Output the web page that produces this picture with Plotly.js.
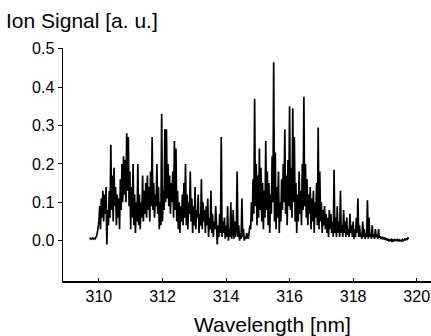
<!DOCTYPE html>
<html>
<head>
<meta charset="utf-8">
<script src="https://cdn.plot.ly/plotly-3.0.1.min.js"></script>
<style>html,body{margin:0;padding:0;background:#fff;}#chart{width:431px;height:336px;}</style>
</head>
<body>
<div id="chart"></div>
<script>
// Wavelength sampling grid (nm)
const wavelengthStart = 309.7;
const wavelengthStep = 0.025;

// Ion signal [a. u.], one value per grid step
const ionSignal = [
  // 309.700 - 310.175
  0.005,0.006,0.004,0.005,0.007,0.004,0.006,0.005,0.008,0.012,0.02,0.035,0.05,0.09,0.03,0.11,0.06,0.13,0.05,0.12,
  // 310.200 - 310.675
  0.07,0.14,-0.01,0.08,0.04,0.13,0.06,0.25,0.08,0.17,0.05,0.19,0.09,0.14,0.04,0.12,0.06,0.11,0.03,0.16,
  // 310.700 - 311.175
  0.08,0.2,0.1,0.22,0.12,0.21,0.1,0.28,0.13,0.27,0.09,0.18,0.03,0.14,0.06,0.2,0.04,0.12,0.02,0.1,
  // 311.200 - 311.675
  0.05,0.2,0.04,0.12,0.03,0.1,0.06,0.17,0.05,0.13,0.07,0.15,0.06,0.17,0.08,0.14,0.05,0.18,0.09,0.27,
  // 311.700 - 312.175
  0.08,0.15,0.06,0.12,0.09,0.2,0.07,0.14,0.03,0.1,0.04,0.33,0.05,0.13,0.08,0.29,0.1,0.29,0.11,0.2,
  // 312.200 - 312.675
  0.09,0.17,0.07,0.15,0.1,0.18,0.06,0.26,0.08,0.24,0.05,0.13,0.03,0.1,0.02,0.09,0.05,0.12,0.04,0.15,
  // 312.700 - 313.175
  0.06,0.2,0.04,0.12,0.03,0.1,0.07,0.18,0.05,0.11,0.02,0.09,0.04,0.14,0.03,0.08,0.06,0.12,0.02,0.07,
  // 313.200 - 313.675
  0.04,0.16,0.03,0.1,0.05,0.08,0.02,0.09,0.04,0.11,0.01,0.06,0.03,0.13,0.02,0.07,0.01,0.05,0.03,0.09,
  // 313.700 - 314.175
  0.0,-0.01,0.04,0.01,0.07,0.02,0.27,0.01,0.05,0.02,0.06,0.005,0.04,0.01,0.09,0.0,0.03,0.01,0.1,0.005,
  // 314.200 - 314.675
  0.02,0.08,0.005,0.05,0.01,0.03,0.18,0.01,0.04,0.0,0.02,0.005,0.11,0.01,0.03,0.0,0.01,0.005,0.02,0.01,
  // 314.700 - 315.175
  0.005,0.02,0.04,0.03,0.1,0.05,0.16,0.07,0.37,0.09,0.2,0.04,0.17,0.06,0.24,0.08,0.19,0.05,0.15,0.03,
  // 315.200 - 315.675
  0.13,0.06,0.26,0.08,0.18,0.04,0.15,0.02,0.12,0.07,0.22,0.1,0.465,0.05,0.23,0.03,0.14,0.06,0.18,0.02,
  // 315.700 - 316.175
  0.1,0.05,0.16,0.08,0.2,0.1,0.29,0.07,0.17,0.04,0.21,0.09,0.35,0.08,0.19,0.06,0.345,0.1,0.27,0.05,
  // 316.200 - 316.675
  0.15,0.02,0.12,0.05,0.18,0.07,0.13,0.04,0.2,0.08,0.375,0.09,0.2,0.06,0.16,0.04,0.12,0.07,0.14,0.03,
  // 316.700 - 317.175
  0.11,0.05,0.13,0.02,0.1,0.06,0.15,0.04,0.295,0.03,0.18,0.05,0.1,0.02,0.08,0.04,0.09,0.03,0.07,0.02,
  // 317.200 - 317.675
  0.06,0.01,0.08,0.03,0.07,0.02,0.05,0.01,0.185,0.02,0.06,0.01,0.09,0.02,0.05,0.01,0.13,0.02,0.04,0.01,
  // 317.700 - 318.175
  0.08,0.02,0.05,0.01,0.06,0.015,0.03,0.01,0.07,0.02,0.04,0.01,0.05,0.005,0.03,0.01,0.06,0.02,0.11,0.01,
  // 318.200 - 318.675
  0.04,0.01,0.02,0.005,0.05,0.01,0.03,0.005,0.02,0.01,0.105,0.005,0.06,0.01,0.02,0.005,0.04,0.01,0.015,0.005,
  // 318.700 - 319.175
  0.03,0.01,0.015,0.005,0.03,0.008,0.012,0.004,0.01,0.006,0.009,0.003,0.008,0.002,0.006,0.0,0.005,-0.002,0.004,0.001,
  // 319.200 - 319.675
  0.003,-0.003,0.002,0.0,0.004,-0.001,0.002,0.001,0.003,-0.002,0.002,0.0,0.001,-0.001,0.003,0.0,0.002,0.004,0.001,0.006,
  // 319.700 - 319.750
  0.002,0.007,0.005
];

const xTickValues = [310, 312, 314, 316, 318, 320];
const yTickValues = [0.0, 0.1, 0.2, 0.3, 0.4, 0.5];

const wavelength = ionSignal.map((_, i) => +(wavelengthStart + i * wavelengthStep).toFixed(3));

const font = {family: 'Liberation Sans, Arial, sans-serif', color: '#000'};

Plotly.newPlot('chart', [{
  type: 'scatter',
  mode: 'lines',
  x: wavelength,
  y: ionSignal,
  line: {color: '#000', width: 1.7},
  hoverinfo: 'skip'
}], {
  width: 431,
  height: 336,
  margin: {l: 63, r: 0, t: 48, b: 55},
  paper_bgcolor: '#fff',
  plot_bgcolor: '#fff',
  showlegend: false,
  font: Object.assign({size: 16}, font),
  xaxis: {
    range: [308.87, 320.45],
    tickvals: xTickValues,
    ticktext: xTickValues.map(String),
    ticks: 'inside',
    ticklen: 3,
    tickcolor: '#000',
    showline: true,
    linecolor: '#000',
    linewidth: 1.5,
    showgrid: false,
    zeroline: false,
    tickfont: Object.assign({size: 16}, font),
    title: {text: ''}
  },
  yaxis: {
    range: [-0.105, 0.502],
    tickvals: yTickValues,
    ticktext: yTickValues.map(v => v.toFixed(1)),
    ticks: 'outside',
    ticklen: 4,
    tickcolor: '#000',
    showline: true,
    linecolor: '#000',
    linewidth: 1.5,
    showgrid: false,
    zeroline: false,
    tickfont: Object.assign({size: 16}, font),
    title: {text: ''}
  },
  annotations: [
    {text: 'Ion Signal [a. u.]', xref: 'paper', yref: 'paper', x: -0.16, y: 1.12,
     xanchor: 'left', yanchor: 'middle', showarrow: false, font: Object.assign({size: 21}, font)},
    {text: 'Wavelength [nm]', xref: 'paper', yref: 'paper', x: 0.57, y: -0.185,
     xanchor: 'center', yanchor: 'middle', showarrow: false, font: Object.assign({size: 21}, font)}
  ]
}, {displayModeBar: false, staticPlot: true});
</script>
</body>
</html>
